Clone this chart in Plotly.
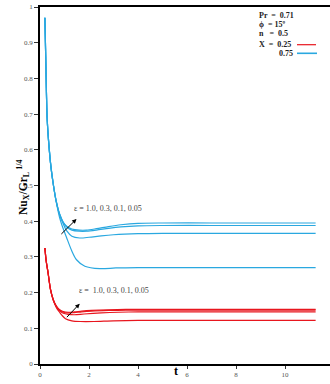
import plotly.graph_objects as go

# Nu_X / Gr_L^(1/4) against time t for X = 0.25 and X = 0.75, four epsilon values each
eps_values = ["1.0", "0.3", "0.1", "0.05"]

# X = 0.75 (blue)
t_b1 = [0.2, 0.24, 0.29, 0.35, 0.45, 0.55, 0.65, 0.8, 0.95, 1.1, 1.3, 1.6, 1.9, 2.3, 2.8, 3.3, 4.0, 5.0, 7.0, 9.0, 11.25]
y_b1 = [0.97, 0.84, 0.69, 0.625, 0.55, 0.50, 0.46, 0.42, 0.397, 0.385, 0.378, 0.375, 0.375, 0.379, 0.385, 0.390, 0.394, 0.395, 0.395, 0.395, 0.395]
t_b2 = [0.2, 0.24, 0.29, 0.35, 0.45, 0.55, 0.65, 0.8, 0.95, 1.1, 1.3, 1.6, 1.9, 2.3, 2.8, 3.3, 4.0, 5.0, 7.0, 9.0, 11.25]
y_b2 = [0.97, 0.84, 0.69, 0.625, 0.55, 0.50, 0.46, 0.42, 0.396, 0.383, 0.375, 0.372, 0.372, 0.375, 0.380, 0.384, 0.387, 0.388, 0.388, 0.388, 0.388]
t_b3 = [0.2, 0.24, 0.29, 0.35, 0.45, 0.55, 0.65, 0.8, 0.95, 1.1, 1.3, 1.62, 2.0, 2.5, 3.0, 4.0, 5.0, 7.0, 9.0, 11.25]
y_b3 = [0.97, 0.84, 0.69, 0.625, 0.55, 0.50, 0.46, 0.418, 0.392, 0.372, 0.358, 0.353, 0.355, 0.359, 0.362, 0.365, 0.366, 0.366, 0.366, 0.366]
t_b4 = [0.2, 0.24, 0.29, 0.35, 0.45, 0.55, 0.65, 0.8, 0.9, 1.08, 1.29, 1.49, 1.83, 2.44, 3.1, 4.0, 5.0, 7.0, 9.0, 11.25]
y_b4 = [0.97, 0.84, 0.69, 0.625, 0.55, 0.50, 0.458, 0.41, 0.388, 0.355, 0.318, 0.292, 0.274, 0.267, 0.269, 0.270, 0.270, 0.270, 0.270, 0.270]

# X = 0.25 (red)
t_r1 = [0.2, 0.25, 0.33, 0.43, 0.54, 0.67, 0.8, 0.95, 1.15, 1.4, 1.7, 2.1, 2.8, 3.5, 4.5, 6.0, 8.0, 11.25]
y_r1 = [0.325, 0.29, 0.255, 0.208, 0.18, 0.162, 0.152, 0.147, 0.145, 0.146, 0.148, 0.150, 0.152, 0.153, 0.153, 0.153, 0.153, 0.153]
t_r2 = [0.2, 0.25, 0.33, 0.43, 0.54, 0.67, 0.8, 0.95, 1.15, 1.4, 1.7, 2.1, 2.8, 3.5, 4.5, 6.0, 8.0, 11.25]
y_r2 = [0.325, 0.29, 0.255, 0.208, 0.18, 0.161, 0.151, 0.145, 0.143, 0.144, 0.146, 0.148, 0.150, 0.151, 0.151, 0.151, 0.151, 0.151]
t_r3 = [0.2, 0.25, 0.33, 0.43, 0.54, 0.67, 0.8, 0.95, 1.15, 1.4, 1.8, 2.5, 3.2, 4.0, 5.0, 7.0, 9.0, 11.25]
y_r3 = [0.325, 0.29, 0.255, 0.208, 0.18, 0.160, 0.149, 0.142, 0.139, 0.138, 0.140, 0.143, 0.145, 0.146, 0.146, 0.146, 0.146, 0.146]
t_r4 = [0.2, 0.25, 0.33, 0.43, 0.54, 0.67, 0.8, 0.9, 1.04, 1.3, 1.65, 2.2, 3.0, 4.0, 5.0, 7.0, 9.0, 11.25]
y_r4 = [0.325, 0.29, 0.255, 0.208, 0.179, 0.158, 0.145, 0.136, 0.127, 0.121, 0.119, 0.119, 0.121, 0.122, 0.122, 0.122, 0.122, 0.122]

x_ticks = [0, 2, 4, 6, 8, 10]
y_ticks = [0, 0.1, 0.2, 0.3, 0.4, 0.5, 0.6, 0.7, 0.8, 0.9, 1]
y_tick_text = ["0", "0.1", "0.2", "0.3", "0.4", "0.5", "0.6", "0.7", "0.8", "0.9", "1"]

BLUE = "#2aa8e0"
RED = "#e8161e"
SERIF = "Liberation Serif, Times New Roman, serif"

fig = go.Figure()
for tx, ty in [(t_b1, y_b1), (t_b2, y_b2), (t_b3, y_b3), (t_b4, y_b4)]:
    fig.add_trace(go.Scatter(x=tx, y=ty, mode="lines",
                             line=dict(color=BLUE, width=1.2, shape="spline", smoothing=0.8),
                             showlegend=False, hoverinfo="skip"))
for tx, ty in [(t_r1, y_r1), (t_r2, y_r2), (t_r3, y_r3), (t_r4, y_r4)]:
    fig.add_trace(go.Scatter(x=tx, y=ty, mode="lines",
                             line=dict(color=RED, width=1.2, shape="spline", smoothing=0.8),
                             showlegend=False, hoverinfo="skip"))

L, T, B = 40, 7, 20
W, H = 330, 384
PW, PH = W - L, H - T - B


def px(x):
    return (x - L) / PW


def py(y):
    return (H - B - y) / PH


eps_label = "\u03b5 = " + ", ".join(eps_values)
annotations = [
    # epsilon labels and arrows
    dict(x=1.31, y=0.435, xref="x", yref="y", text=eps_label, showarrow=False,
         xanchor="left", yanchor="middle", font=dict(family=SERIF, size=8, color="#444")),
    dict(x=1.52, y=0.206, xref="x", yref="y", text=eps_label.replace("= ", "=  "), showarrow=False,
         xanchor="left", yanchor="middle", font=dict(family=SERIF, size=8, color="#444")),
    dict(x=1.49, y=0.406, ax=0.81, ay=0.36, xref="x", yref="y", axref="x", ayref="y",
         text="", showarrow=True, arrowhead=2, arrowsize=0.9, arrowwidth=1, arrowcolor="black"),
    dict(x=1.62, y=0.169, ax=1.04, ay=0.127, xref="x", yref="y", axref="x", ayref="y",
         text="", showarrow=True, arrowhead=2, arrowsize=0.9, arrowwidth=1, arrowcolor="black"),
    # axis titles
    dict(x=px(176), y=py(380), xref="paper", yref="paper", text="<b>t</b>", showarrow=False,
         font=dict(family=SERIF, size=12, color="black")),
    dict(x=px(13), y=py(188), xref="paper", yref="paper", textangle=-90, showarrow=False,
         text="<b>Nu<sub>X</sub>/Gr<sub>L</sub><sup> 1/4</sup></b>",
         font=dict(family=SERIF, size=11.5, color="black")),
]

# parameter block in the upper right
params = [("Pr  =  0.71", 257, 15.7), ("\u03d5  = 15\u00ba", 257, 24.5),
          ("n   =  0.5", 257, 33.3), ("X  =  0.25", 257, 44.3), ("0.75", 277, 53.3)]
for txt, x0, y0 in params:
    annotations.append(dict(x=px(x0), y=py(y0), xref="paper", yref="paper", text="<b>" + txt + "</b>",
                            showarrow=False, xanchor="left", yanchor="middle",
                            font=dict(family=SERIF, size=8, color="#222")))

shapes = [
    dict(type="line", xref="paper", yref="paper", x0=px(297), x1=px(316), y0=py(44.7), y1=py(44.7),
         line=dict(color=RED, width=1.2)),
    dict(type="line", xref="paper", yref="paper", x0=px(297), x1=px(317), y0=py(53.3), y1=py(53.3),
         line=dict(color=BLUE, width=1.6)),
]

fig.update_layout(
    width=W, height=H,
    margin=dict(l=L, r=0, t=T, b=B),
    paper_bgcolor="white", plot_bgcolor="white",
    annotations=annotations, shapes=shapes,
    xaxis=dict(range=[0, PW / 24.5], tickvals=x_ticks, ticks="outside", ticklen=3, tickwidth=1,
               tickcolor="#333", showline=True, linecolor="black", linewidth=1.6, mirror=True,
               showgrid=False, zeroline=False,
               tickfont=dict(family=SERIF, size=7, color="#555")),
    yaxis=dict(range=[0, 1], tickvals=y_ticks, ticktext=y_tick_text, ticks="outside", ticklen=4,
               tickwidth=1, tickcolor="#333", showline=True, linecolor="black", linewidth=1.8,
               showgrid=False, zeroline=False,
               tickfont=dict(family=SERIF, size=7, color="#555")),
)

fig.write_html("out.html")
